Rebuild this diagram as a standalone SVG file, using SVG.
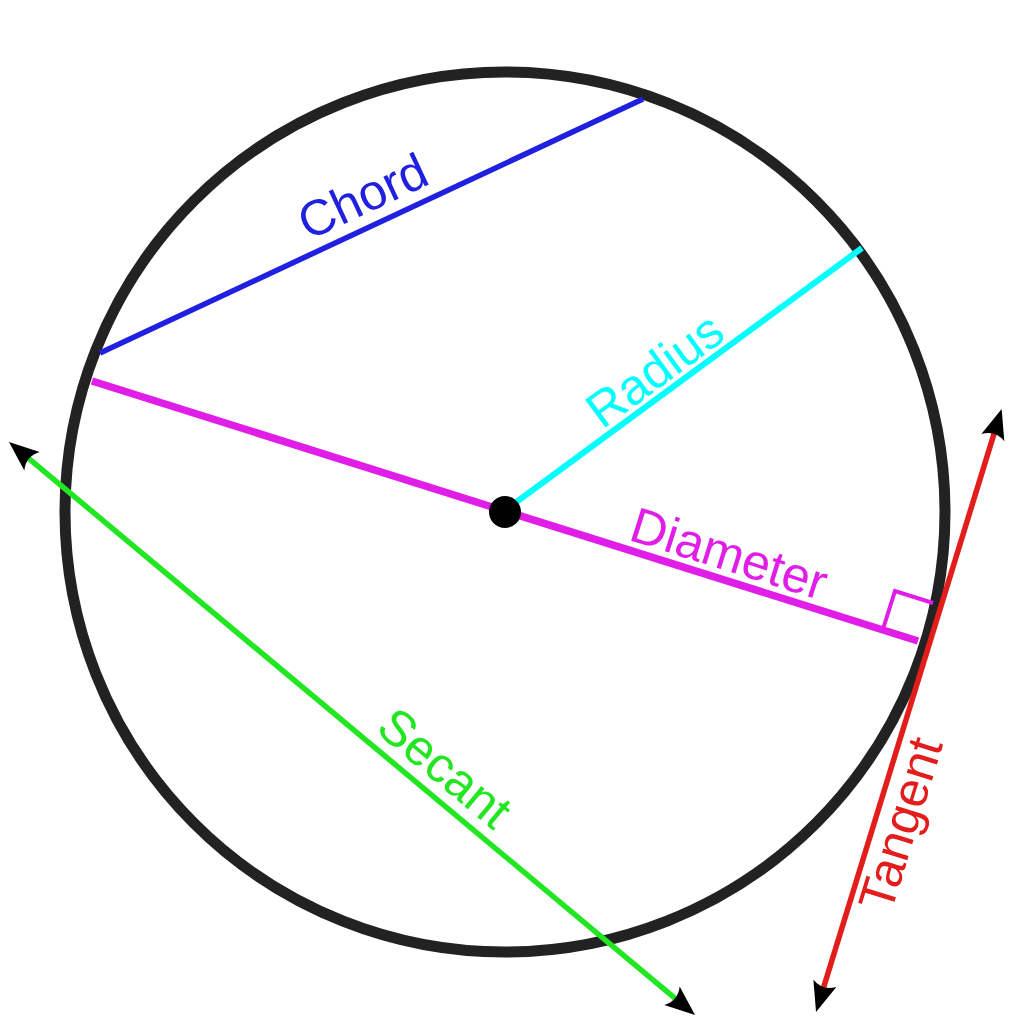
<svg xmlns="http://www.w3.org/2000/svg" width="1013" height="1024" viewBox="0 0 1013 1024">
<style>
  .lbl { font-family: "Liberation Sans", Arial, sans-serif; font-size: 50px; text-anchor: middle; }
  .ln { fill: none; stroke-linecap: butt; }
</style>
<defs>
  <marker id="arr" markerUnits="userSpaceOnUse" markerWidth="60" markerHeight="60" viewBox="-30 -30 60 60" refX="0" refY="0" orient="auto-start-reverse" overflow="visible">
    <path d="M24,0 L-6,-12 Q2,0 -6,12 Z" fill="#000"/>
  </marker>
</defs>
<rect width="1013" height="1024" fill="#fff"/>
<g id="circle">
  <circle cx="505" cy="512" r="440" fill="none" stroke="#222" stroke-width="11"/>
</g>
<g id="connectors">
  <line id="chord" class="ln" x1="100" y1="353" x2="643" y2="99" stroke="#2020e0" stroke-width="5.5"/>
  <line id="diameter" class="ln" x1="92" y1="381" x2="918" y2="641" stroke="#e01ee8" stroke-width="7.5"/>
  <polyline id="right-angle" class="ln" points="883,629 895,591 933,603" stroke="#e01ee8" stroke-width="4"/>
  <line id="radius" class="ln" x1="515" y1="503" x2="862" y2="248" stroke="#00ffff" stroke-width="6"/>
  <line id="secant" class="ln" x1="27.4" y1="457.4" x2="676.6" y2="999.6" stroke="#22e622" stroke-width="5.5" marker-start="url(#arr)" marker-end="url(#arr)"/>
  <line id="tangent" class="ln" x1="994.6" y1="431.9" x2="823.1" y2="989.1" stroke="#e31c1c" stroke-width="5.5" marker-start="url(#arr)" marker-end="url(#arr)"/>
</g>
<g id="center">
  <circle cx="505" cy="512" r="16" fill="#000"/>
</g>
<g id="labels">
  <text class="lbl" fill="#2020e0" transform="translate(370,212) rotate(-25.07)">Chord</text>
  <text class="lbl" fill="#00ffff" transform="translate(665,384) rotate(-36.3)">Radius</text>
  <text class="lbl" fill="#e01ee8" transform="translate(724,570) rotate(17.5)">Diameter</text>
  <text class="lbl" fill="#22e622" transform="translate(434,781) rotate(39.87)">Secant</text>
  <text class="lbl" fill="#e31c1c" transform="translate(917,829) rotate(-72.88)">Tangent</text>
</g>
</svg>
